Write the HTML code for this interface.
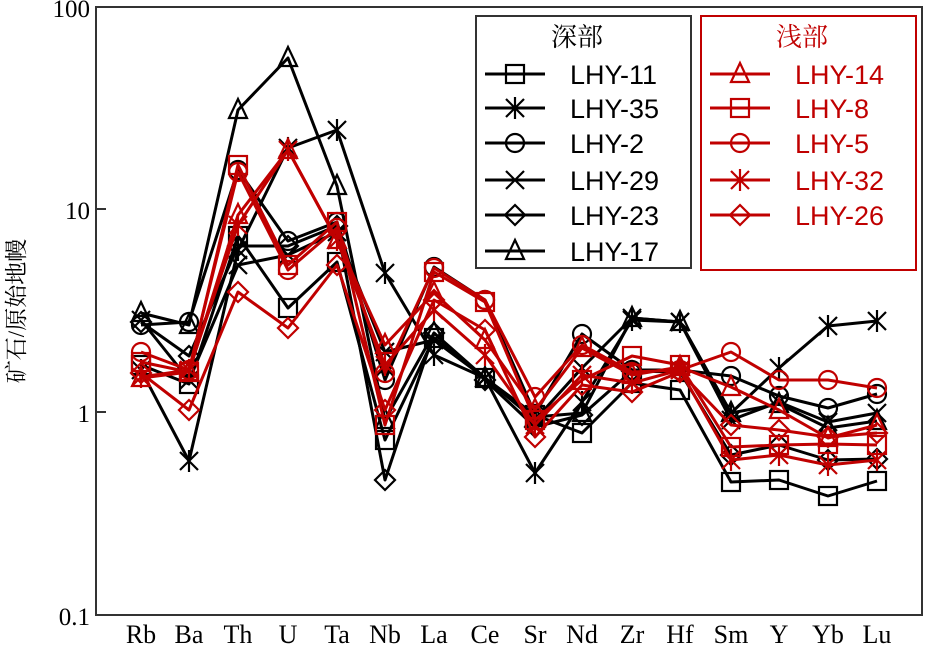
<!DOCTYPE html>
<html><head><meta charset="utf-8"><style>
html,body{margin:0;padding:0;background:#fff}
svg{display:block}
</style></head><body>
<svg id="s" width="927" height="646" xmlns="http://www.w3.org/2000/svg">
<rect x="0" y="0" width="927" height="646" fill="#fff"/>
<g stroke="#333" stroke-width="2" fill="none">
<rect x="96" y="7" width="826" height="608"/>
<line x1="96" y1="209" x2="106" y2="209"/><line x1="96" y1="412" x2="106" y2="412"/>
</g>
<g font-family="Liberation Serif, serif" font-size="25" fill="#000">
<text x="90" y="17" text-anchor="end">100</text>
<text x="90" y="219" text-anchor="end">10</text>
<text x="90" y="422" text-anchor="end">1</text>
<text x="90" y="625" text-anchor="end">0.1</text>
</g>
<text transform="translate(24,311) rotate(-90)" font-family="Liberation Serif, 'Noto Serif CJK SC', serif" font-size="23" text-anchor="middle">矿石/原始地幔</text>
<g id="xl" font-family="Liberation Serif, serif" font-size="26" text-anchor="middle"></g>
<g id="data"></g>
<rect x="476" y="16" width="215" height="252" fill="#fff" stroke="#333" stroke-width="2"/>
<rect x="701" y="16" width="215" height="254" fill="#fff" stroke="#c00000" stroke-width="2"/>
<g id="leg"></g>
</svg>
<script>
var ns="http://www.w3.org/2000/svg";
var xs=[141,189,238,288,337,385,434,485,535,582,632,680,731,779,828,877];
var names=["Rb","Ba","Th","U","Ta","Nb","La","Ce","Sr","Nd","Zr","Hf","Sm","Y","Yb","Lu"];
var xl=document.getElementById("xl");
names.forEach(function(n,i){var t=document.createElementNS(ns,"text");t.setAttribute("x",xs[i]);t.setAttribute("y",643);t.textContent=n;xl.appendChild(t);});
var B="#000",R="#c00000";
var series=[
["LHY-11","sq",B,[365,384,236,308,262,440,338,378,415,433,383,390,482,480,496,481]],
["LHY-35","ast",B,[370,461,250,148,130,273,355,378,473,402,320,322,413,368,326,321]],
["LHY-2","ci",B,[325,322,170,241,222,380,267,300,414,334,370,370,376,396,408,394]],
["LHY-29","x",B,[320,380,265,255,232,352,340,378,420,368,318,322,420,402,422,413]],
["LHY-23","di",B,[322,356,246,246,226,480,333,380,427,415,371,372,455,445,460,459]],
["LHY-17","tr",B,[313,325,110,58,186,420,333,378,417,413,318,322,413,404,428,421]],
["LHY-14","tr",R,[378,372,215,150,240,345,293,340,410,348,375,367,387,410,438,425]],
["LHY-8","sq",R,[362,372,165,265,222,425,272,302,420,380,356,365,447,445,444,445]],
["LHY-5","ci",R,[352,370,172,270,228,373,268,300,397,345,372,370,352,380,380,388]],
["LHY-32","ast",R,[377,370,225,150,240,365,310,355,425,375,383,370,460,455,465,460]],
["LHY-26","di",R,[373,410,292,328,265,410,300,330,437,385,392,372,425,430,437,433]]
];
function marker(g,t,x,y,c){
 var s=9;
 function mk(tag,a){var el=document.createElementNS(ns,tag);for(var k in a)el.setAttribute(k,a[k]);el.setAttribute("stroke",c);el.setAttribute("stroke-width",2.2);el.setAttribute("fill","none");g.appendChild(el);}
 if(t=="sq")mk("rect",{x:x-s,y:y-s,width:2*s,height:2*s});
 if(t=="ci")mk("circle",{cx:x,cy:y,r:s});
 if(t=="di")mk("polygon",{points:(x)+","+(y-s-1)+" "+(x+s+1)+","+y+" "+x+","+(y+s+1)+" "+(x-s-1)+","+y});
 if(t=="tr")mk("polygon",{points:x+","+(y-s-2)+" "+(x+s)+","+(y+s-1)+" "+(x-s)+","+(y+s-1)});
 if(t=="x"||t=="ast"){mk("line",{x1:x-s,y1:y-s,x2:x+s,y2:y+s});mk("line",{x1:x-s,y1:y+s,x2:x+s,y2:y-s});}
 if(t=="ast")mk("line",{x1:x,y1:y-s-2,x2:x,y2:y+s+2});
}
var dg=document.getElementById("data");
series.forEach(function(sr){
 var pl=document.createElementNS(ns,"polyline");
 pl.setAttribute("points",sr[3].map(function(y,i){return xs[i]+","+y}).join(" "));
 pl.setAttribute("fill","none");pl.setAttribute("stroke",sr[2]);pl.setAttribute("stroke-width",3);pl.setAttribute("stroke-linejoin","round");
 dg.appendChild(pl);
 sr[3].forEach(function(y,i){marker(dg,sr[1],xs[i],y,sr[2]);});
});
var lg=document.getElementById("leg");
function txt(x,y,s,c,fam,fs){var t=document.createElementNS(ns,"text");t.setAttribute("x",x);t.setAttribute("y",y);t.setAttribute("font-size",fs||"27");t.setAttribute("fill",c);t.setAttribute("font-family",fam);t.textContent=s;lg.appendChild(t);}
txt(551,46,"深部",B,"'Noto Serif CJK SC', serif","26");
txt(776,46,"浅部",R,"'Noto Serif CJK SC', serif","26");
var rows=[74,108,143,180,215,251];
series.forEach(function(sr,i){
 var red=i>=6, k=red?i-6:i, y=rows[k], x0=red?710:485;
 var l=document.createElementNS(ns,"line");l.setAttribute("x1",x0);l.setAttribute("x2",x0+60);l.setAttribute("y1",y);l.setAttribute("y2",y);l.setAttribute("stroke",sr[2]);l.setAttribute("stroke-width",3);lg.appendChild(l);
 marker(lg,sr[1],x0+30,y,sr[2]);
 txt(x0+85,y+10,sr[0],sr[2],"Liberation Sans, sans-serif","27");
});
</script>
</body></html>
